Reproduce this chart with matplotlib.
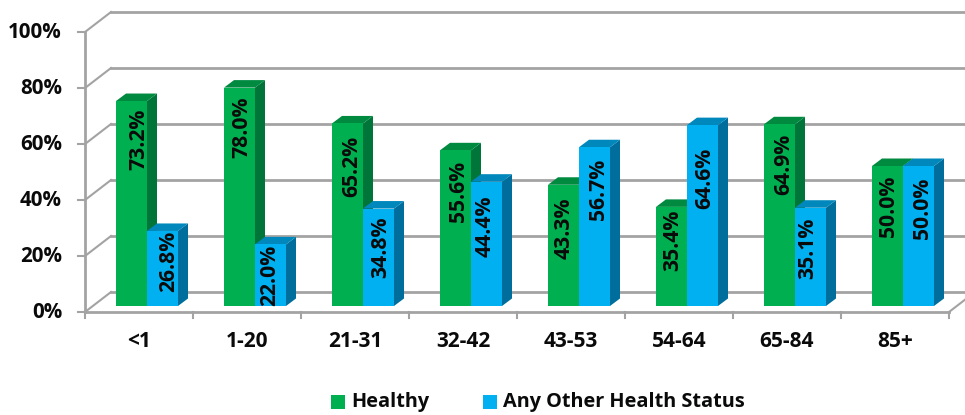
import matplotlib
matplotlib.use('Agg')
import matplotlib.pyplot as plt
from matplotlib.patches import Polygon, Rectangle

categories = ['<1', '1-20', '21-31', '32-42', '43-53', '54-64', '65-84', '85+']
healthy = [73.2, 78.0, 65.2, 55.6, 43.3, 35.4, 64.9, 50.0]
other = [26.8, 22.0, 34.8, 44.4, 56.7, 64.6, 35.1, 50.0]
y_ticks = [0, 20, 40, 60, 80, 100]

# hand placed data labels: pixels right of bar centre, pixels below bar top
healthy_dx = [6, 1, 3, 2, 0, 0, 3, 0]
healthy_drop = [38, 39.5, 43, 41, 43, 33, 40, 40]
other_dx = [5.5, -1.5, 1.5, -2.5, 3, 1.5, -4, 3]
other_drop = [30, 31, 39, 45, 42, 53, 41, 42]

W, H = 965, 415
PX_Y = 2.8      # pixels per percent
CAT_W = 108.0   # pixels per category

plt.rcParams['font.family'] = ['Open Sans', 'DejaVu Sans']
plt.rcParams['font.weight'] = 'bold'
TXT = '#0A0A0A'

fig = plt.figure(figsize=(W / 100, H / 100), dpi=100)
ax = fig.add_axes([0, 0, 1, 1])
# x in categories (0 = y axis), y in percent (0 = front of the bars)
ax.set_xlim(-85 / CAT_W, (W - 85) / CAT_W)
ax.set_ylim(-(H - 306) / PX_Y, 306 / PX_Y)
ax.axis('off')

dx = lambda px: px / CAT_W
dy = lambda px: px / PX_Y

GREY = '#A3A3A3'
AXIS_DROP = dy(6)      # axis plane sits in front of the bars
WALL_X, WALL_Y = dx(26), dy(20)

for t in y_ticks:
    y0 = t - AXIS_DROP
    ax.plot([0, WALL_X], [y0, y0 + WALL_Y], color=GREY, lw=1.5, zorder=1)
    ax.plot([WALL_X, 8 + WALL_X], [y0 + WALL_Y, y0 + WALL_Y], color=GREY, lw=2, zorder=1)
    ax.plot([-dx(7), 0], [y0, y0], color=GREY, lw=1.5, zorder=1)
    ax.text(-dx(23), y0 - dy(0.5), f'{t}%', ha='right', va='center', fontsize=14.8, color=TXT)

# axis lines and floor edge
ax.plot([0, 0], [-AXIS_DROP, 100 - AXIS_DROP], color=GREY, lw=2, zorder=2)
ax.plot([0, 8], [-AXIS_DROP, -AXIS_DROP], color=GREY, lw=2, zorder=2)
ax.plot([8, 8 + WALL_X], [-AXIS_DROP, -AXIS_DROP + WALL_Y], color=GREY, lw=1.5, zorder=1)
for i in range(9):
    ax.plot([i, i], [-AXIS_DROP, -AXIS_DROP - dy(6)], color=GREY, lw=1.5, zorder=2)
for i, c in enumerate(categories):
    ax.text(i + 0.5, -dy(35.5), c, ha='center', va='center', fontsize=15, color=TXT)


def bar3d(x, w, h, front, side, top):
    ddx, ddy = dx(10), dy(7.5)
    ax.add_patch(Polygon([(x + w, 0), (x + w + ddx, ddy), (x + w + ddx, h + ddy), (x + w, h)],
                         fc=side, ec='none', zorder=3))
    ax.add_patch(Polygon([(x, h), (x + ddx, h + ddy), (x + w + ddx, h + ddy), (x + w, h)],
                         fc=top, ec='none', zorder=3))
    ax.add_patch(Rectangle((x, 0), w, h, fc=front, ec='none', zorder=4))


BAR_W = 31 / CAT_W
START = 31 / CAT_W
for i, (g, b) in enumerate(zip(healthy, other)):
    bar3d(i + START, BAR_W, g, '#00B050', '#00753A', '#008A40')
    bar3d(i + START + BAR_W, BAR_W, b, '#00B0F0', '#006E9C', '#0088BC')
    labels = ((i + START, g, healthy_dx[i], healthy_drop[i]),
              (i + START + BAR_W, b, other_dx[i], other_drop[i]))
    for x, v, off, drop in labels:
        ax.text(x + BAR_W / 2 + dx(off + 1), v - dy(drop), f'{v:.1f}%', rotation=90, ha='center', va='center',
                fontsize=15.2, color=TXT, zorder=5)

# legend
for px, c, label in ((331, '#00B050', 'Healthy'), (483, '#00B0F0', 'Any Other Health Status')):
    fig.patches.append(Rectangle((px / W, 1 - 409 / H), 14 / W, 14 / H, transform=fig.transFigure,
                                 fc=c, ec='none'))
    fig.text((px + 20) / W, 1 - 402 / H, label, ha='left', va='center', fontsize=14.3, color=TXT)

fig.savefig('out.png', dpi=100)
